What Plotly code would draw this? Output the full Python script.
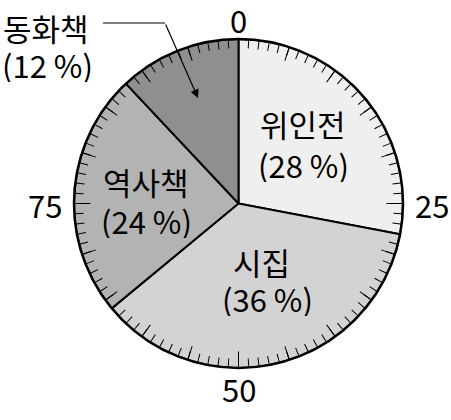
import numpy as np
import plotly.graph_objects as go

# ---- data ----
categories = ["위인전", "시집", "역사책", "동화책"]
percents = [28, 36, 24, 12]
slice_colors = ["#efefef", "#d3d3d3", "#b3b3b3", "#8f8f8f"]
major_ticks = [0, 25, 50, 75]
major_labels = ["0", "25", "50", "75"]

W, H = 451, 420
FONT = "Noto Sans CJK KR"
FS = 31
BOX_H = 36

def px(x, y):
    return x / W, 1 - y / H

# polar domain (circle centre / radius in pixels)
cx, cy, R = 238.5, 203.5, 164.5
dom_x = [(cx - R) / W, (cx + R) / W]
dom_y = [1 - (cy + R) / H, 1 - (cy - R) / H]

pct = np.array(percents, dtype=float)
starts = np.concatenate([[0], np.cumsum(pct)[:-1]])
theta = (starts + pct / 2) * 3.6
width = pct * 3.6

fig = go.Figure()
fig.add_trace(go.Barpolar(
    r=[1] * len(pct), theta=theta, width=width,
    marker=dict(color=slice_colors, line=dict(color="black", width=2)),
    showlegend=False, hoverinfo="skip", subplot="polar"))
for sp in ["polar2", "polar3"]:
    fig.add_trace(go.Scatterpolar(r=[], theta=[], subplot=sp, showlegend=False))

def angular(tickvals, ticklen, showline=False):
    return dict(
        rotation=90, direction="clockwise",
        tickmode="array", tickvals=[v * 3.6 for v in tickvals],
        ticks="inside", ticklen=ticklen, tickwidth=1.3, tickcolor="black",
        showgrid=False, showline=showline, linecolor="black", linewidth=2.5,
        showticklabels=False, layer="above traces",
    )

radial = dict(visible=False, range=[0, 1], showgrid=False)
minor_vals = list(range(0, 100))
five_vals = list(range(0, 100, 5))

fig.update_layout(
    width=W, height=H,
    margin=dict(l=0, r=0, t=0, b=0),
    paper_bgcolor="white", plot_bgcolor="white",
    polar=dict(domain=dict(x=dom_x, y=dom_y), bgcolor="rgba(0,0,0,0)",
               radialaxis=radial, angularaxis=angular(minor_vals, 8, showline=True),
               bargap=0),
    polar2=dict(domain=dict(x=dom_x, y=dom_y), bgcolor="rgba(0,0,0,0)",
                radialaxis=radial, angularaxis=angular(five_vals, 14)),
    polar3=dict(domain=dict(x=dom_x, y=dom_y), bgcolor="rgba(0,0,0,0)",
                radialaxis=radial, angularaxis=angular(major_ticks, 16)),
    font=dict(family=FONT, size=FS, color="black"),
)

def text_ann(x, y, txt):
    xx, yy = px(x, y)
    fig.add_annotation(x=xx, y=yy, xref="paper", yref="paper", text=txt,
                       showarrow=False, font=dict(family=FONT, size=FS, color="black"),
                       xanchor="center", yanchor="middle", height=BOX_H, borderpad=0)

# scale labels outside the circle
for v, lab in zip(major_ticks, major_labels):
    a = np.deg2rad(v * 3.6)
    side = abs(np.sin(a))
    d = 20 + 9 * side
    x = cx + (R + d) * np.sin(a)
    y = cy - (R + d) * np.cos(a)
    text_ann(x, y, lab)

name_pos = [(303, 123), (261, 261), (146, 181), (46, 27)]
pct_pos = [(303, 164), (267, 298), (146, 220), (47, 64)]
for name, p, (x1, y1), (x2, y2) in zip(categories, percents, name_pos, pct_pos):
    text_ann(x1, y1, name)
    text_ann(x2, y2, f"({p} %)")

# leader line + arrow for the small slice
x0, y0 = px(103, 23)
x1, y1 = px(165, 23)
fig.add_shape(type="line", xref="paper", yref="paper", x0=x0, y0=y0, x1=x1, y1=y1,
              line=dict(color="black", width=1.2))
tx, ty = px(198, 98)
fig.add_annotation(x=tx, y=ty, xref="paper", yref="paper", text="",
                   showarrow=True, ax=165 - 198, ay=23 - 98, axref="pixel", ayref="pixel",
                   arrowhead=2, arrowsize=1.4, arrowwidth=1.2, arrowcolor="black")

fig.write_html("out.html")
